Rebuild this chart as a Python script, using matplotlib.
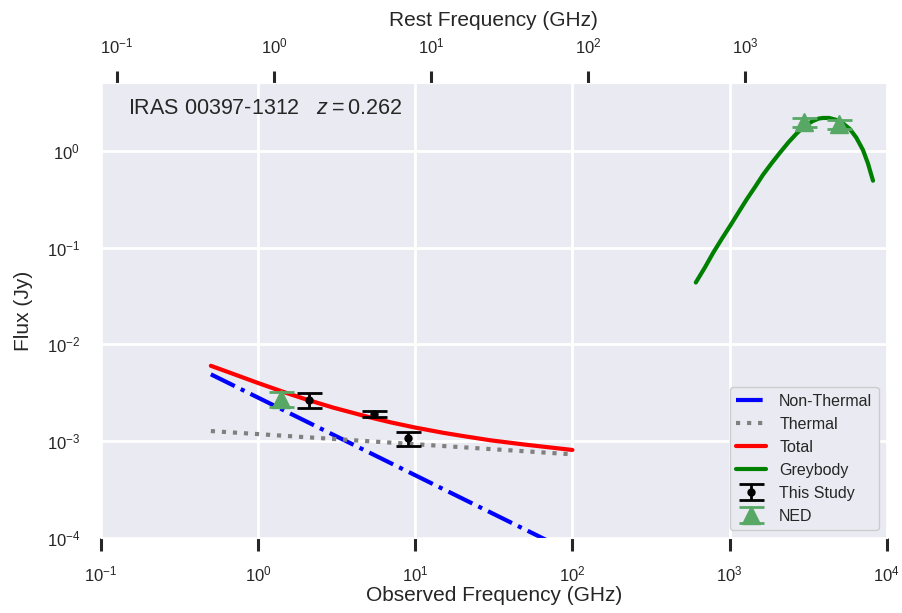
import numpy as np
import matplotlib
matplotlib.use("Agg")
import matplotlib.pyplot as plt
import seaborn as sns

# ---- data ----
z = 0.262
nt_freq = [0.5, 100.0]
nt_flux = [4.9e-3, 7.0e-5]
th_freq = [0.5, 100.0]
th_flux = [1.27e-3, 7.3e-4]
tot_freq = [0.5, 0.7, 1.0, 1.5, 2.0, 3.0, 5.0, 7.0, 10.0, 15.0, 20.0, 30.0, 50.0, 70.0, 100.0]
tot_flux = [6.0e-3, 4.92e-3, 3.98e-3, 3.16e-3, 2.71e-3, 2.22e-3, 1.78e-3, 1.56e-3,
            1.38e-3, 1.22e-3, 1.13e-3, 1.02e-3, 9.2e-4, 8.65e-4, 8.1e-4]
gb_freq = [610, 700, 785, 890, 1003, 1130, 1282, 1450, 1634, 1850, 2085, 2370, 2666,
           3000, 3398, 3700, 3936, 4300, 4786, 5300, 5821, 6400, 7063, 7600, 8185]
gb_flux = [0.0435, 0.063, 0.0877, 0.122, 0.165, 0.225, 0.312, 0.42, 0.565, 0.74, 0.947,
           1.22, 1.50, 1.80, 2.03, 2.15, 2.18, 2.18, 2.08, 1.90, 1.68, 1.37, 1.02, 0.74, 0.49]
study_freq = [2.1, 5.5, 9.0]
study_flux = [2.67e-3, 1.91e-3, 1.07e-3]
study_err = [0.45e-3, 0.14e-3, 0.18e-3]
ned_freq = [1.4, 2998.0, 4997.0]
ned_flux = [2.75e-3, 1.97, 1.87]
ned_err = [0.5e-3, 0.2, 0.19]
top_ticks = [0.1, 1, 10, 100, 1000]

sns.set_style("darkgrid")
plt.rcParams['font.family'] = ['Liberation Sans', 'DejaVu Sans']
plt.rcParams['mathtext.fontset'] = 'custom'
plt.rcParams['mathtext.rm'] = 'Liberation Sans'
plt.rcParams['mathtext.it'] = 'Liberation Sans:italic'
plt.rcParams['mathtext.sf'] = 'Liberation Sans'

fig = plt.figure(figsize=(9.02, 6.13), dpi=100)
ax = fig.add_axes([0.112, 0.1225, 0.871, 0.742])
ax.set_xscale('log')
ax.set_yscale('log')

lw = 3
ax.plot(nt_freq, nt_flux, color='b', ls='-.', lw=lw, label='Non-Thermal')
ax.plot(th_freq, th_flux, color='gray', ls=':', lw=lw, label='Thermal')
ax.plot(tot_freq, tot_flux, color='r', ls='-', lw=lw, label='Total')
ax.plot(gb_freq, gb_flux, color='g', ls='-', lw=lw, label='Greybody')

ax.errorbar(study_freq, study_flux, yerr=study_err, fmt='o', color='k', ms=5,
            capsize=9, capthick=2, elinewidth=2, label='This Study')
ax.errorbar(ned_freq, ned_flux, yerr=ned_err, fmt='^', color='#58a865', ms=13,
            capsize=9, capthick=2, elinewidth=2, label='NED')

ax.set_xlim(0.1, 1e4)
ax.set_ylim(1e-4, 5.0)
ax.grid(True, which='major', color='white', lw=2)
ax.grid(False, which='minor')
ax.tick_params(axis='x', which='major', direction='out', length=9, width=2.2,
               color='0.15', labelsize=12, pad=10, bottom=True)
ax.tick_params(axis='x', which='minor', bottom=False, top=False)
ax.tick_params(axis='y', which='major', length=0, labelsize=12, pad=15)
ax.tick_params(axis='y', which='minor', left=False)
ax.set_xlabel('Observed Frequency (GHz)', fontsize=15, labelpad=1)
ax.set_ylabel('Flux (Jy)', fontsize=15, labelpad=10)

sec = ax.secondary_xaxis('top', functions=(lambda x: x / (1 + z), lambda x: x * (1 + z)))
sec.set_xticks(top_ticks)
sec.xaxis.set_minor_locator(matplotlib.ticker.NullLocator())
sec.tick_params(axis='x', which='major', direction='out', length=9, width=2.2,
                color='0.15', labelsize=12, pad=10)
sec.set_xlabel('Rest Frequency (GHz)', fontsize=15, labelpad=8)
for s in sec.spines.values():
    s.set_visible(False)

ax.text(0.034, 0.945, 'IRAS 00397-1312   $z = 0.262$', transform=ax.transAxes,
        fontsize=15.5, va='center', ha='left', color='0.15')

leg = ax.legend(loc='lower right', fontsize=11.5, frameon=True, facecolor='#EAEAF2',
                edgecolor='0.8', framealpha=1.0, labelspacing=0.5, handlelength=1.9)

fig.savefig('out.png', dpi=100)
